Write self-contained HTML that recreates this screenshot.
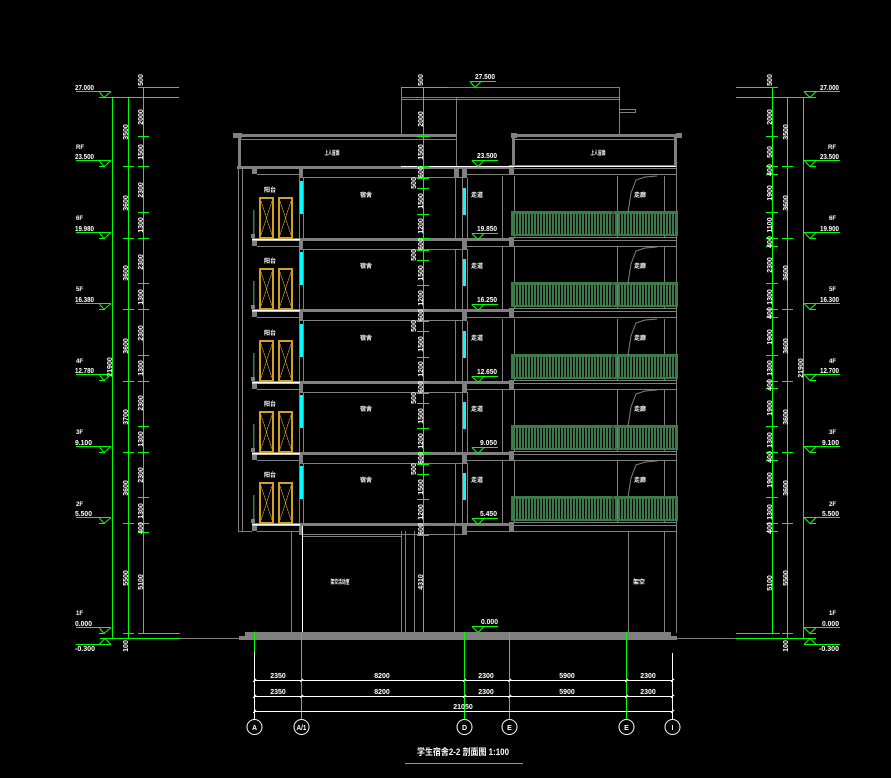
<!DOCTYPE html>
<html><head><meta charset="utf-8"><style>
html,body{margin:0;padding:0;background:#000;width:891px;height:778px;overflow:hidden}
svg{display:block}
.t{fill:#fff;font-family:"Liberation Sans","Noto Sans CJK SC",sans-serif;font-size:7px;font-weight:bold}
.s{fill:#fff;font-family:"Liberation Sans","Noto Sans CJK SC",sans-serif;font-size:6px;font-weight:bold}
.m{text-anchor:middle}
.e{text-anchor:end}
</style></head><body>
<svg width="891" height="778" viewBox="0 0 891 778" xmlns="http://www.w3.org/2000/svg" shape-rendering="crispEdges">
<defs>
<pattern id="bars" width="3" height="4" patternUnits="userSpaceOnUse"><rect width="2" height="4" fill="#3c7a4a"/></pattern>
<g id="sl" fill="#808080">
<rect x="252" y="0" width="261" height="3"/>
<rect x="252" y="0" width="5" height="8"/>
<rect x="299" y="0" width="4" height="12"/>
<rect x="462" y="0" width="5" height="12"/>
<rect x="509" y="-1" width="5" height="10"/>
<path d="M257 8.5H299M303 11.5H462M467 8.5H677M514 -0.5H677M514 2.5H677" stroke="#808080" fill="none"/>
</g>
<g id="rm">
<path d="M299.5 -60V0M303.5 -60V0M455.5 -60V0M462.5 -60V0M467.5 -60V0M502.5 -62V0M514.5 -62V0M617.5 -62V0M664.5 -62V0" stroke="#808080" fill="none"/>
<rect x="300" y="-57" width="3" height="33" fill="#00ffff"/>
<rect x="463" y="-50" width="3" height="27" fill="#00ffff"/>
<g stroke="#d4a020" fill="none">
<rect x="260" y="-40" width="13" height="40" stroke-width="2"/>
<rect x="279" y="-40" width="13" height="40" stroke-width="2"/>
<path d="M260 -40L273 0M273 -40L260 0M279 -40L292 0M292 -40L279 0" stroke-width="0.6"/>
</g>
<path d="M253.5 -28V-3" stroke="#3c7a4a" stroke-width="1.5"/>
<rect x="251" y="-4" width="4" height="4" fill="#808080"/>
<rect x="252" y="1" width="48" height="1.5" fill="#fff"/>
<rect x="512" y="-27" width="166" height="3" fill="#3c7a4a"/>
<rect x="513" y="-24" width="163" height="21" fill="url(#bars)"/>
<rect x="512" y="-4" width="166" height="2" fill="#3c7a4a"/>
<rect x="511" y="-27" width="3" height="25" fill="#3c7a4a"/>
<rect x="612" y="-27" width="2" height="25" fill="#2a5a35"/>
<rect x="675" y="-27" width="3" height="25" fill="#3c7a4a"/>
<path d="M628 -26L631 -45L636 -58L645 -61L657 -62" stroke="#808080" fill="none" shape-rendering="auto"/>
</g>
</defs>
<rect width="891" height="778" fill="#000"/>

<!-- ===== LEFT DIMENSIONS ===== -->
<g stroke="#00ff00" fill="none">
<path d="M112.5 97V638M128.5 97V638M143.5 87V633M100 97.5H179M138 87.5H179M100 638.5H180M138 633.5H180"/>
<path d="M138 136.5H149M138 166.5H149M138 212.5H149M138 238.5H149M138 283.5H149M138 309.5H149M138 355.5H149M138 381.5H149M138 426.5H149M138 452.5H149M138 497.5H149M138 523.5H149M138 532.5H149"/>
<path d="M123 166.5H134M123 238.5H134M123 309.5H134M123 381.5H134M123 452.5H134M123 523.5H134M123 633.5H134"/>
<path d="M76 91.5H111M76 160.5H111M76 232.5H111M76 303.5H111M76 374.5H111M76 446.5H111M76 517.5H111M76 627.5H111M76 644.5H111"/>
<path d="M99 91.5L104 97.5L111 91.5M99 97.5H105M99 160.5L104 166.5L111 160.5M99 166.5H105M99 232.5L104 238.5L111 232.5M99 238.5H105M99 303.5L104 309.5L111 303.5M99 309.5H105M99 374.5L104 380.5L111 374.5M99 380.5H105M99 446.5L104 452.5L111 446.5M99 452.5H105M99 517.5L104 523.5L111 517.5M99 523.5H105M99 627.5L104 633.5L111 627.5M99 633.5H105M99 644.5L105 638.5L111 644.5"/>
</g>
<g class="t">
<text x="75" y="90" textLength="19" lengthAdjust="spacingAndGlyphs">27.000</text>
<text x="75" y="159" textLength="19" lengthAdjust="spacingAndGlyphs">23.500</text>
<text x="75" y="231" textLength="19" lengthAdjust="spacingAndGlyphs">19.980</text>
<text x="75" y="302" textLength="19" lengthAdjust="spacingAndGlyphs">16.380</text>
<text x="75" y="373" textLength="19" lengthAdjust="spacingAndGlyphs">12.780</text>
<text x="75" y="445" textLength="17" lengthAdjust="spacingAndGlyphs">9.100</text>
<text x="75" y="516" textLength="17" lengthAdjust="spacingAndGlyphs">5.500</text>
<text x="75" y="626" textLength="17" lengthAdjust="spacingAndGlyphs">0.000</text>
<text x="75" y="651" textLength="20" lengthAdjust="spacingAndGlyphs">-0.300</text>
</g>
<g class="s">
<text x="76" y="149">RF</text><text x="76" y="220">6F</text><text x="76" y="291">5F</text><text x="76" y="363">4F</text><text x="76" y="434">3F</text><text x="76" y="506">2F</text><text x="76" y="615">1F</text>
</g>
<g class="t m">
<text transform="translate(143,80) rotate(-90)">500</text>
<text transform="translate(143,117) rotate(-90)">2000</text>
<text transform="translate(143,152) rotate(-90)">1500</text>
<text transform="translate(143,190) rotate(-90)">2300</text>
<text transform="translate(143,225) rotate(-90)">1300</text>
<text transform="translate(143,262) rotate(-90)">2300</text>
<text transform="translate(143,297) rotate(-90)">1300</text>
<text transform="translate(143,333) rotate(-90)">2300</text>
<text transform="translate(143,368) rotate(-90)">1300</text>
<text transform="translate(143,403) rotate(-90)">2300</text>
<text transform="translate(143,439) rotate(-90)">1300</text>
<text transform="translate(143,475) rotate(-90)">2300</text>
<text transform="translate(143,511) rotate(-90)">1300</text>
<text transform="translate(143,528) rotate(-90)">400</text>
<text transform="translate(143,582) rotate(-90)">5100</text>
<text transform="translate(128,132) rotate(-90)">3500</text>
<text transform="translate(128,203) rotate(-90)">3600</text>
<text transform="translate(128,273) rotate(-90)">3600</text>
<text transform="translate(128,346) rotate(-90)">3600</text>
<text transform="translate(128,417) rotate(-90)">3700</text>
<text transform="translate(128,488) rotate(-90)">3600</text>
<text transform="translate(128,578) rotate(-90)">5500</text>
<text transform="translate(128,646) rotate(-90)">100</text>
<text transform="translate(112,367) rotate(-90)">21900</text>
</g>

<!-- ===== RIGHT DIMENSIONS ===== -->
<g stroke="#00ff00" fill="none">
<path d="M772.5 87V633M787.5 97V638M803.5 97V638M736 97.5H816M736 87.5H778M736 638.5H816M736 633.5H780"/>
<path d="M766 136.5H778M766 166.5H778M766 174.5H778M766 212.5H778M766 238.5H778M766 246.5H778M766 283.5H778M766 309.5H778M766 317.5H778M766 355.5H778M766 381.5H778M766 388.5H778M766 426.5H778M766 452.5H778M766 460.5H778M766 497.5H778M766 523.5H778M766 531.5H778"/>
<path d="M782 166.5H793M782 238.5H793M782 309.5H793M782 381.5H793M782 452.5H793M782 523.5H793M782 633.5H793"/>
<path d="M804 91.5H840M804 160.5H840M804 232.5H840M804 303.5H840M804 374.5H840M804 446.5H840M804 517.5H840M804 627.5H840M804 644.5H840"/>
<path d="M804 91.5L810 97.5L816 91.5M810 97.5H816M804 160.5L810 166.5L816 160.5M810 166.5H816M804 232.5L810 238.5L816 232.5M810 238.5H816M804 303.5L810 309.5L816 303.5M810 309.5H816M804 374.5L810 380.5L816 374.5M810 380.5H816M804 446.5L810 452.5L816 446.5M810 452.5H816M804 517.5L810 523.5L816 517.5M810 523.5H816M804 627.5L810 633.5L816 627.5M810 633.5H816M804 644.5L810 638.5L816 644.5"/>
</g>
<g class="t e">
<text x="839" y="90" textLength="19" lengthAdjust="spacingAndGlyphs">27.000</text>
<text x="839" y="159" textLength="19" lengthAdjust="spacingAndGlyphs">23.500</text>
<text x="839" y="231" textLength="19" lengthAdjust="spacingAndGlyphs">19.900</text>
<text x="839" y="302" textLength="19" lengthAdjust="spacingAndGlyphs">16.300</text>
<text x="839" y="373" textLength="19" lengthAdjust="spacingAndGlyphs">12.700</text>
<text x="839" y="445" textLength="17" lengthAdjust="spacingAndGlyphs">9.100</text>
<text x="839" y="516" textLength="17" lengthAdjust="spacingAndGlyphs">5.500</text>
<text x="839" y="626" textLength="17" lengthAdjust="spacingAndGlyphs">0.000</text>
<text x="839" y="651" textLength="20" lengthAdjust="spacingAndGlyphs">-0.300</text>
</g>
<g class="s e">
<text x="836" y="149">RF</text><text x="836" y="220">6F</text><text x="836" y="291">5F</text><text x="836" y="363">4F</text><text x="836" y="434">3F</text><text x="836" y="506">2F</text><text x="836" y="615">1F</text>
</g>
<g class="t m">
<text transform="translate(772,80) rotate(-90)">500</text>
<text transform="translate(772,117) rotate(-90)">2000</text>
<text transform="translate(772,152) rotate(-90)">500</text>
<text transform="translate(772,170) rotate(-90)">400</text>
<text transform="translate(772,193) rotate(-90)">1900</text>
<text transform="translate(772,225) rotate(-90)">1100</text>
<text transform="translate(772,242) rotate(-90)">400</text>
<text transform="translate(772,265) rotate(-90)">2300</text>
<text transform="translate(772,297) rotate(-90)">1300</text>
<text transform="translate(772,313) rotate(-90)">400</text>
<text transform="translate(772,337) rotate(-90)">1900</text>
<text transform="translate(772,368) rotate(-90)">1300</text>
<text transform="translate(772,385) rotate(-90)">400</text>
<text transform="translate(772,408) rotate(-90)">1900</text>
<text transform="translate(772,440) rotate(-90)">1300</text>
<text transform="translate(772,457) rotate(-90)">400</text>
<text transform="translate(772,480) rotate(-90)">1900</text>
<text transform="translate(772,512) rotate(-90)">1300</text>
<text transform="translate(772,528) rotate(-90)">400</text>
<text transform="translate(772,583) rotate(-90)">5100</text>
<text transform="translate(788,132) rotate(-90)">3500</text>
<text transform="translate(788,203) rotate(-90)">3600</text>
<text transform="translate(788,273) rotate(-90)">3600</text>
<text transform="translate(788,346) rotate(-90)">3600</text>
<text transform="translate(788,417) rotate(-90)">3600</text>
<text transform="translate(788,488) rotate(-90)">3600</text>
<text transform="translate(788,578) rotate(-90)">5500</text>
<text transform="translate(788,646) rotate(-90)">100</text>
<text transform="translate(803,368) rotate(-90)">21900</text>
</g>

<!-- ===== BUILDING ===== -->
<path d="M401.5 87.5H619.5V136M401.5 87.5V136M401 97.5H619M401 99.5H619M456.5 97V166M619 109.5H635.5V112.5H619" stroke="#808080" fill="none"/>
<g fill="#808080">
<rect x="233" y="133" width="9" height="5"/>
<rect x="233" y="134" width="223" height="3"/>
<rect x="238" y="137" width="3" height="30"/>
<rect x="511" y="133" width="6" height="5"/>
<rect x="512" y="134" width="170" height="3"/>
<rect x="676" y="133" width="6" height="5"/>
<rect x="512" y="137" width="3" height="30"/>
<rect x="674" y="137" width="3" height="30"/>
<rect x="237" y="166" width="275" height="3"/>
<rect x="454" y="166" width="5" height="12"/>
</g>
<path d="M241 139.5H456M515 139.5H674" stroke="#808080" fill="none"/>
<path d="M238.5 167V531.5H252M242.5 167V531M676.5 137V633" stroke="#808080" fill="none"/>

<use href="#sl" x="0" y="166"/>
<use href="#sl" x="0" y="238"/>
<use href="#sl" x="0" y="309"/>
<use href="#sl" x="0" y="381"/>
<use href="#sl" x="0" y="452"/>
<use href="#sl" x="0" y="523"/>
<use href="#rm" x="0" y="238"/>
<use href="#rm" x="0" y="309"/>
<use href="#rm" x="0" y="381"/>
<use href="#rm" x="0" y="452"/>
<use href="#rm" x="0" y="523"/>
<path d="M401 166.5H676" stroke="#fff" fill="none"/>

<path d="M291.5 531V633M401.5 531V633M405.5 531V633M414.5 531V633M454.5 523V633M628.5 531V633M664.5 531V633M303 536.5H401M467 531.5H676" stroke="#808080" fill="none"/>
<path d="M302.5 526V633" stroke="#fff" fill="none"/>
<rect x="245" y="632" width="426" height="5" fill="#808080"/>
<rect x="239" y="636" width="438" height="4" fill="#808080"/>
<path d="M180 638.5H239M677 638.5H736" stroke="#808080" fill="none"/>

<g stroke="#00ff00" fill="none">
<path d="M423.5 87V633M401 87.5H447"/>
<path d="M417 136.5H429M417 166.5H429M417 178.5H429M417 188.5H429M417 214.5H429M417 238.5H429M417 250.5H429M417 260.5H429M417 285.5H429M417 309.5H429M417 321.5H429M417 331.5H429M417 357.5H429M417 381.5H429M417 393.5H429M417 403.5H429M417 428.5H429M417 452.5H429M417 464.5H429M417 474.5H429M417 499.5H429M417 523.5H429M417 535.5H429"/>
<path d="M470 81.5H496M470 81.5L475 87.5L481 81.5"/>
<path d="M472 160.5H498M472 160.5L478 166.5L484 160.5"/>
<path d="M472 233.5H498M472 233.5L478 239.5L484 233.5"/>
<path d="M472 304.5H498M472 304.5L478 310.5L484 304.5"/>
<path d="M472 376.5H498M472 376.5L478 382.5L484 376.5"/>
<path d="M472 447.5H498M472 447.5L478 453.5L484 447.5"/>
<path d="M472 518.5H498M472 518.5L478 524.5L484 518.5"/>
<path d="M472 626.5H498M472 626.5L478 632.5L484 626.5"/>
</g>
<g class="t">
<text x="475" y="79" textLength="20" lengthAdjust="spacingAndGlyphs">27.500</text>
<text x="477" y="158" textLength="20" lengthAdjust="spacingAndGlyphs">23.500</text>
<text x="477" y="231" textLength="20" lengthAdjust="spacingAndGlyphs">19.850</text>
<text x="477" y="302" textLength="20" lengthAdjust="spacingAndGlyphs">16.250</text>
<text x="477" y="374" textLength="20" lengthAdjust="spacingAndGlyphs">12.650</text>
<text x="480" y="445" textLength="17" lengthAdjust="spacingAndGlyphs">9.050</text>
<text x="480" y="516" textLength="17" lengthAdjust="spacingAndGlyphs">5.450</text>
<text x="481" y="624" textLength="17" lengthAdjust="spacingAndGlyphs">0.000</text>
</g>
<g class="t m">
<text transform="translate(423,80) rotate(-90)">500</text>
<text transform="translate(423,119) rotate(-90)">2000</text>
<text transform="translate(423,152) rotate(-90)">1500</text>
<text transform="translate(423,172) rotate(-90)">600</text>
<text transform="translate(416,183) rotate(-90)">500</text>
<text transform="translate(423,201) rotate(-90)">1500</text>
<text transform="translate(423,226) rotate(-90)">1200</text>
<text transform="translate(423,244) rotate(-90)">600</text>
<text transform="translate(416,255) rotate(-90)">500</text>
<text transform="translate(423,273) rotate(-90)">1500</text>
<text transform="translate(423,298) rotate(-90)">1200</text>
<text transform="translate(423,315) rotate(-90)">600</text>
<text transform="translate(416,326) rotate(-90)">500</text>
<text transform="translate(423,344) rotate(-90)">1500</text>
<text transform="translate(423,369) rotate(-90)">1200</text>
<text transform="translate(423,387) rotate(-90)">600</text>
<text transform="translate(416,398) rotate(-90)">500</text>
<text transform="translate(423,416) rotate(-90)">1500</text>
<text transform="translate(423,441) rotate(-90)">1200</text>
<text transform="translate(423,458) rotate(-90)">600</text>
<text transform="translate(416,469) rotate(-90)">500</text>
<text transform="translate(423,487) rotate(-90)">1500</text>
<text transform="translate(423,512) rotate(-90)">1200</text>
<text transform="translate(423,529) rotate(-90)">600</text>
<text transform="translate(423,582) rotate(-90)">4310</text>
</g>

<g class="s m">
<text x="332" y="155" textLength="15" lengthAdjust="spacingAndGlyphs">上人屋面</text>
<text x="598" y="155" textLength="15" lengthAdjust="spacingAndGlyphs">上人屋面</text>
<text x="270" y="192">阳台</text><text x="366" y="197">宿舍</text><text x="477" y="197">走道</text><text x="640" y="197">走廊</text>
<text x="270" y="263">阳台</text><text x="366" y="268">宿舍</text><text x="477" y="268">走道</text><text x="640" y="268">走廊</text>
<text x="270" y="335">阳台</text><text x="366" y="340">宿舍</text><text x="477" y="340">走道</text><text x="640" y="340">走廊</text>
<text x="270" y="406">阳台</text><text x="366" y="411">宿舍</text><text x="477" y="411">走道</text><text x="640" y="411">走廊</text>
<text x="270" y="477">阳台</text><text x="366" y="482">宿舍</text><text x="477" y="482">走道</text><text x="640" y="482">走廊</text>
<text x="340" y="584" textLength="19" lengthAdjust="spacingAndGlyphs">架空活动室</text>
<text x="639" y="584">架空</text>
</g>

<g stroke="#00ff00" fill="none">
<path d="M254.5 632V652M301.5 632V719M464.5 632V719M509.5 632V719M626.5 632V719"/>
</g>
<g stroke="#fff" fill="none">
<path d="M254.5 652V719M672.5 653V719"/>
<path d="M254 680.5H672M254 696.5H672M254 711.5H672"/>
<path d="M253 682L256 679M300 682L303 679M463 682L466 679M508 682L511 679M625 682L628 679M671 682L674 679M253 698L256 695M300 698L303 695M463 698L466 695M508 698L511 695M625 698L628 695M671 698L674 695M253 713L256 710M671 713L674 710"/>
<g shape-rendering="auto">
<circle cx="254.5" cy="727" r="7.5"/>
<circle cx="301.5" cy="727" r="7.5"/>
<circle cx="464.5" cy="727" r="7.5"/>
<circle cx="509.5" cy="727" r="7.5"/>
<circle cx="626.5" cy="727" r="7.5"/>
<circle cx="672.5" cy="727" r="7.5"/>
</g>
</g>
<g class="t m">
<text x="278" y="678">2350</text><text x="382" y="678">8200</text><text x="486" y="678">2300</text><text x="567" y="678">5900</text><text x="648" y="678">2300</text>
<text x="278" y="694">2350</text><text x="382" y="694">8200</text><text x="486" y="694">2300</text><text x="567" y="694">5900</text><text x="648" y="694">2300</text>
<text x="463" y="709">21050</text>
<text x="254.5" y="730">A</text>
<text x="301.5" y="730" textLength="10" lengthAdjust="spacingAndGlyphs">A/1</text>
<text x="464.5" y="730">D</text>
<text x="509.5" y="730">E</text>
<text x="626.5" y="730">E</text>
<text x="672.5" y="730">I</text>
</g>
<text x="463" y="755" text-anchor="middle" textLength="92" lengthAdjust="spacingAndGlyphs" style="fill:#fff;font-family:'Liberation Sans','Noto Sans CJK SC',sans-serif;font-size:9px;font-weight:bold">学生宿舍2-2 剖面图 1:100</text>
<path d="M405 763.5H523" stroke="#00ff00" fill="none"/>
</svg>
</body></html>
